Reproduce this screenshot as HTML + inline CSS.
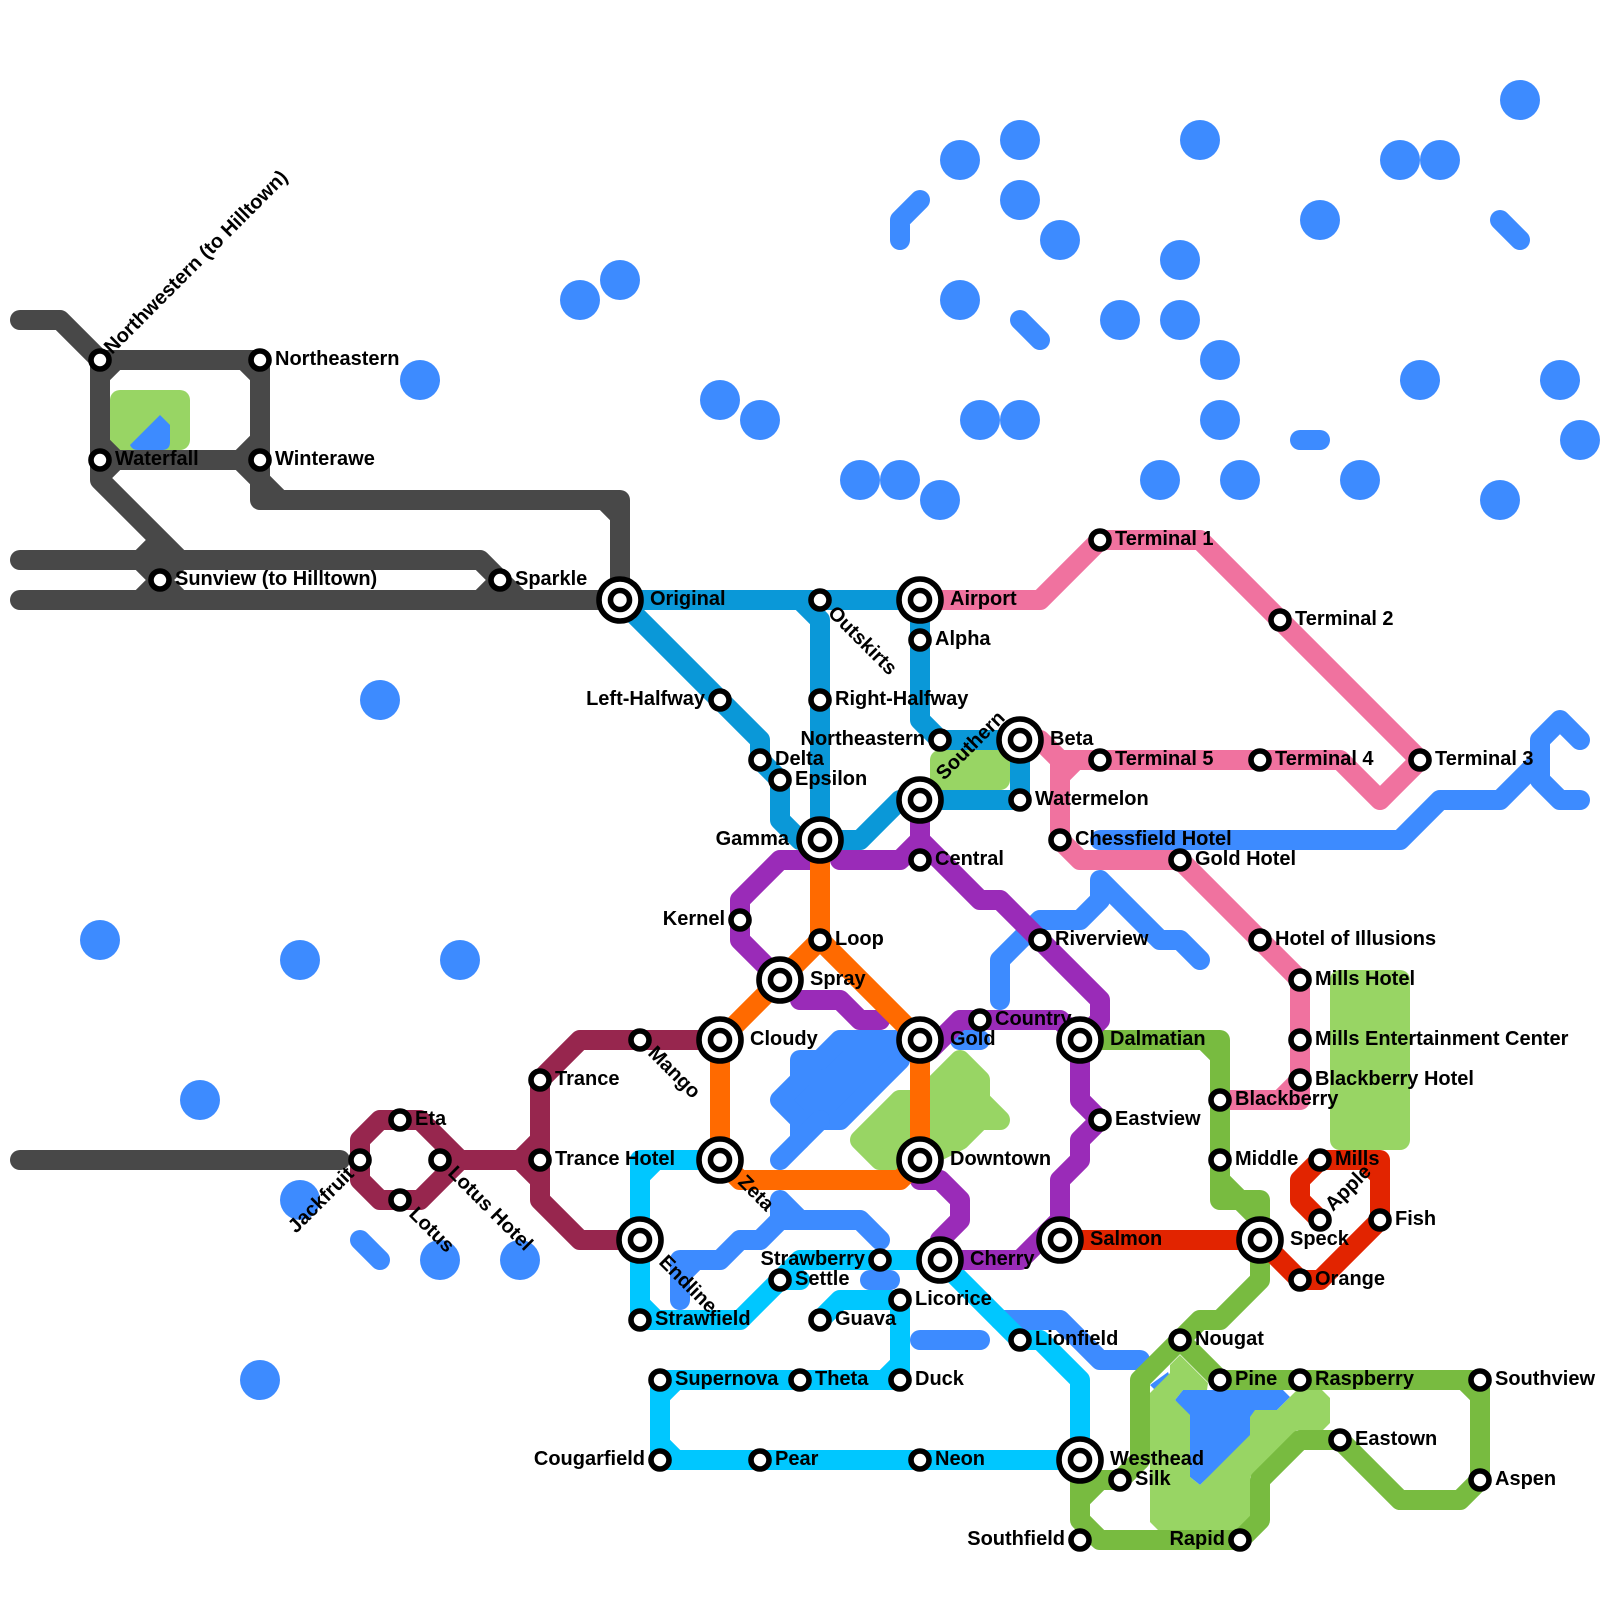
<!DOCTYPE html>
<html><head><meta charset="utf-8"><style>
html,body{margin:0;padding:0;background:#fff}
svg{display:block}
.t path{fill:none;stroke-width:20;stroke-linecap:round;stroke-linejoin:round}
.s circle{fill:#fff;stroke:#000;stroke-width:5.6}
text{font-family:"Liberation Sans",sans-serif;font-weight:bold;font-size:20px;fill:#000}
</style></head><body>
<svg xmlns="http://www.w3.org/2000/svg" width="1600" height="1600" viewBox="0 0 1600 1600">
<rect width="1600" height="1600" fill="#fff"/>
<g fill="#3d8bff">
<circle cx="580" cy="300" r="20"/><circle cx="620" cy="280" r="20"/><circle cx="420" cy="380" r="20"/><circle cx="720" cy="400" r="20"/><circle cx="760" cy="420" r="20"/><circle cx="860" cy="480" r="20"/><circle cx="900" cy="480" r="20"/><circle cx="940" cy="500" r="20"/><circle cx="960" cy="160" r="20"/><circle cx="1020" cy="140" r="20"/><circle cx="1020" cy="200" r="20"/><circle cx="1060" cy="240" r="20"/><circle cx="960" cy="300" r="20"/><circle cx="980" cy="420" r="20"/><circle cx="1020" cy="420" r="20"/><circle cx="1120" cy="320" r="20"/><circle cx="1180" cy="260" r="20"/><circle cx="1180" cy="320" r="20"/><circle cx="1200" cy="140" r="20"/><circle cx="1220" cy="360" r="20"/><circle cx="1220" cy="420" r="20"/><circle cx="1160" cy="480" r="20"/><circle cx="1240" cy="480" r="20"/><circle cx="1320" cy="220" r="20"/><circle cx="1360" cy="480" r="20"/><circle cx="1400" cy="160" r="20"/><circle cx="1440" cy="160" r="20"/><circle cx="1520" cy="100" r="20"/><circle cx="1420" cy="380" r="20"/><circle cx="1560" cy="380" r="20"/><circle cx="1580" cy="440" r="20"/><circle cx="1500" cy="500" r="20"/><circle cx="380" cy="700" r="20"/><circle cx="100" cy="940" r="20"/><circle cx="300" cy="960" r="20"/><circle cx="460" cy="960" r="20"/><circle cx="200" cy="1100" r="20"/><circle cx="300" cy="1200" r="20"/><circle cx="440" cy="1260" r="20"/><circle cx="520" cy="1260" r="20"/><circle cx="260" cy="1380" r="20"/>
<polygon points="1175,1400 1183,1390 1283,1390 1290,1397 1250,1437 1200,1485 1190,1477 1190,1417"/>
<polygon points="1150,1385 1168,1372 1170,1377 1155,1390"/>
<polygon points="800,1060 820,1060 840,1040 900,1040 900,1060 840,1120 800,1120 800,1140 800,1120 780,1100 800,1080" stroke="#3d8bff" stroke-width="20" stroke-linejoin="round"/>
</g>
<g class="t"><path stroke="#3d8bff" d="M900 240V220L920 200M1020 320L1040 340M1500 220L1520 240M1300 440H1320M360 1240L380 1260M920 1340H980M1100 840H1400L1440 800H1500L1540 760V740L1560 720L1580 740M1540 740V780L1560 800H1580M1000 1000V960L1040 920H1080L1100 900V880L1160 940H1180L1200 960M960 1040H980M780 1160L820 1120M680 1300V1260H720L740 1240H760L780 1220H860L880 1240M780 1200V1220M780 1200L800 1220M696 1260L680 1276M870 1280H890M1000 1320H1060L1100 1360H1140"/></g>
<g fill="#98d564" stroke="#98d564" stroke-linejoin="round">
<rect x="930" y="750" width="80" height="40" rx="10" stroke="none"/>
<rect x="1330" y="970" width="80" height="180" rx="10" stroke="none"/>
<rect x="110" y="390" width="80" height="60" rx="10" stroke="none"/>
<polygon stroke-width="20" points="860,1140 900,1100 920,1100 940,1080 960,1060 980,1080 980,1100 1000,1120 980,1120 960,1140 920,1160 880,1160"/>
<polygon stroke="none" points="1180,1355 1208,1383 1207,1390 1183,1390 1175,1400 1190,1415 1190,1477 1200,1485 1250,1435 1250,1417 1255,1410 1277,1410 1297,1390 1322,1390 1330,1398 1330,1423 1323,1430 1297,1430 1250,1477 1250,1520 1240,1530 1158,1530 1150,1522 1150,1393 1170,1373 1170,1365"/>
</g>
<path fill="#3d8bff" d="M160 415L170 425V442Q170 450 162 450H138Q132 450 130 445Z"/>
<g class="t">
<path stroke="#484848" d="M20 320H60L100 360V480L180 560M100 360H260V500H620V600M100 460H260M20 560H480L520 600M20 600H620M160 540L140 560L160 580L140 600M180 560L160 580L180 600M480 600L500 580M260 480L280 500M240 460L260 440M240 460L260 480M116 360L100 376M244 360L260 376M604 500L620 516M100 444L116 460M100 476L116 460M20 1160H340"/>
<path stroke="#00c7ff" d="M720 1160H640V1320H740L780 1280H800M780 1280L800 1260H940L1020 1340H1040L1080 1380V1460M820 1320L840 1300H900V1380H660V1460H1080M656 1160L640 1176M640 1304L656 1320M884 1380L900 1364M676 1380L660 1396M660 1444L676 1460"/>
<path stroke="#0a98d8" d="M620 600H920V720L940 740H1020V800H920M800 600L820 620V840M620 600L760 740V760L780 780V820L800 840H860L900 800H920"/>
<path stroke="#f0729f" d="M920 600H1040L1100 540H1200L1420 760L1380 800L1340 760H1060M1020 740H1040L1060 760V840L1080 860H1180L1300 980V1100H1220M1300 1080L1280 1100M1076 760L1060 776"/>
<path stroke="#97264e" d="M360 1140L380 1120H420L460 1160H540M360 1140V1180L380 1200H420L460 1160M540 1080V1200L580 1240H640M540 1080L580 1040H720M520 1160L540 1140M520 1160L540 1180"/>
<path stroke="#78bb40" d="M1080 1040H1220V1200H1240L1260 1220M1220 1180L1240 1200H1260V1280L1220 1320H1200L1140 1380V1460L1120 1480H1100L1080 1500M1080 1460V1520L1100 1540H1240L1260 1520V1480L1300 1440H1340L1400 1500H1460L1480 1480V1380H1220L1180 1340M1204 1040L1220 1056M1464 1380L1480 1396"/>
<path stroke="#9a2bb8" d="M920 800V840L980 900H1000L1100 1000V1020L1080 1040M840 860H900L920 840M810 860H780L740 900V940L780 980M800 1000H840L860 1020H880M930 1050L960 1020H1060L1080 1040M1080 1040V1100L1100 1120L1080 1140V1160L1060 1180V1240M1060 1220L1020 1260H940M920 1180H940L960 1200V1220L940 1240V1260"/>
<path stroke="#ff6a00" d="M720 1040L820 940L920 1040V1160L900 1180H740L720 1160V1040M820 840V940"/>
<path stroke="#e22400" d="M1060 1240H1260L1300 1280H1320L1380 1220V1160H1320L1300 1180V1200L1320 1220M1364 1160L1380 1176"/>
</g>
<g class="s">
<circle cx="100" cy="360" r="9"/><circle cx="260" cy="360" r="9"/><circle cx="100" cy="460" r="9"/><circle cx="260" cy="460" r="9"/><circle cx="160" cy="580" r="9"/><circle cx="500" cy="580" r="9"/><circle cx="360" cy="1160" r="9"/><circle cx="400" cy="1120" r="9"/><circle cx="440" cy="1160" r="9"/><circle cx="400" cy="1200" r="9"/><circle cx="540" cy="1080" r="9"/><circle cx="540" cy="1160" r="9"/><circle cx="640" cy="1040" r="9"/><circle cx="820" cy="600" r="9"/><circle cx="920" cy="640" r="9"/><circle cx="720" cy="700" r="9"/><circle cx="820" cy="700" r="9"/><circle cx="940" cy="740" r="9"/><circle cx="760" cy="760" r="9"/><circle cx="780" cy="780" r="9"/><circle cx="1020" cy="800" r="9"/><circle cx="920" cy="860" r="9"/><circle cx="740" cy="920" r="9"/><circle cx="820" cy="940" r="9"/><circle cx="1040" cy="940" r="9"/><circle cx="980" cy="1020" r="9"/><circle cx="1100" cy="540" r="9"/><circle cx="1280" cy="620" r="9"/><circle cx="1420" cy="760" r="9"/><circle cx="1260" cy="760" r="9"/><circle cx="1100" cy="760" r="9"/><circle cx="1060" cy="840" r="9"/><circle cx="1180" cy="860" r="9"/><circle cx="1260" cy="940" r="9"/><circle cx="1300" cy="980" r="9"/><circle cx="1300" cy="1040" r="9"/><circle cx="1300" cy="1080" r="9"/><circle cx="1220" cy="1100" r="9"/><circle cx="1220" cy="1160" r="9"/><circle cx="1320" cy="1160" r="9"/><circle cx="1320" cy="1220" r="9"/><circle cx="1380" cy="1220" r="9"/><circle cx="1300" cy="1280" r="9"/><circle cx="1100" cy="1120" r="9"/><circle cx="880" cy="1260" r="9"/><circle cx="780" cy="1280" r="9"/><circle cx="900" cy="1300" r="9"/><circle cx="820" cy="1320" r="9"/><circle cx="640" cy="1320" r="9"/><circle cx="660" cy="1380" r="9"/><circle cx="800" cy="1380" r="9"/><circle cx="900" cy="1380" r="9"/><circle cx="660" cy="1460" r="9"/><circle cx="760" cy="1460" r="9"/><circle cx="920" cy="1460" r="9"/><circle cx="1020" cy="1340" r="9"/><circle cx="1120" cy="1480" r="9"/><circle cx="1080" cy="1540" r="9"/><circle cx="1240" cy="1540" r="9"/><circle cx="1180" cy="1340" r="9"/><circle cx="1220" cy="1380" r="9"/><circle cx="1300" cy="1380" r="9"/><circle cx="1480" cy="1380" r="9"/><circle cx="1340" cy="1440" r="9"/><circle cx="1480" cy="1480" r="9"/>
<circle cx="620" cy="600" r="21"/><circle cx="620" cy="600" r="9.5"/>
<circle cx="920" cy="600" r="21"/><circle cx="920" cy="600" r="9.5"/>
<circle cx="1020" cy="740" r="21"/><circle cx="1020" cy="740" r="9.5"/>
<circle cx="920" cy="800" r="21"/><circle cx="920" cy="800" r="9.5"/>
<circle cx="820" cy="840" r="21"/><circle cx="820" cy="840" r="9.5"/>
<circle cx="780" cy="980" r="21"/><circle cx="780" cy="980" r="9.5"/>
<circle cx="720" cy="1040" r="21"/><circle cx="720" cy="1040" r="9.5"/>
<circle cx="920" cy="1040" r="21"/><circle cx="920" cy="1040" r="9.5"/>
<circle cx="1080" cy="1040" r="21"/><circle cx="1080" cy="1040" r="9.5"/>
<circle cx="720" cy="1160" r="21"/><circle cx="720" cy="1160" r="9.5"/>
<circle cx="920" cy="1160" r="21"/><circle cx="920" cy="1160" r="9.5"/>
<circle cx="640" cy="1240" r="21"/><circle cx="640" cy="1240" r="9.5"/>
<circle cx="1060" cy="1240" r="21"/><circle cx="1060" cy="1240" r="9.5"/>
<circle cx="1260" cy="1240" r="21"/><circle cx="1260" cy="1240" r="9.5"/>
<circle cx="940" cy="1260" r="21"/><circle cx="940" cy="1260" r="9.5"/>
<circle cx="1080" cy="1460" r="21"/><circle cx="1080" cy="1460" r="9.5"/>
</g>
<g>
<text x="275" y="365">Northeastern</text><text x="275" y="465">Winterawe</text><text x="115" y="465">Waterfall</text><text x="175" y="585">Sunview (to Hilltown)</text><text x="515" y="585">Sparkle</text><text x="935" y="645">Alpha</text><text x="835" y="705">Right-Halfway</text><text x="775" y="765">Delta</text><text x="795" y="785">Epsilon</text><text x="1035" y="805">Watermelon</text><text x="935" y="865">Central</text><text x="835" y="945">Loop</text><text x="1055" y="945">Riverview</text><text x="995" y="1025">Country</text><text x="1115" y="545">Terminal 1</text><text x="1295" y="625">Terminal 2</text><text x="1435" y="765">Terminal 3</text><text x="1275" y="765">Terminal 4</text><text x="1115" y="765">Terminal 5</text><text x="1075" y="845">Chessfield Hotel</text><text x="1195" y="865">Gold Hotel</text><text x="1275" y="945">Hotel of Illusions</text><text x="1315" y="985">Mills Hotel</text><text x="1315" y="1045">Mills Entertainment Center</text><text x="1315" y="1085">Blackberry Hotel</text><text x="1235" y="1105">Blackberry</text><text x="1235" y="1165">Middle</text><text x="1335" y="1165">Mills</text><text x="1395" y="1225">Fish</text><text x="1315" y="1285">Orange</text><text x="1115" y="1125">Eastview</text><text x="555" y="1085">Trance</text><text x="555" y="1165">Trance Hotel</text><text x="415" y="1125">Eta</text><text x="795" y="1285">Settle</text><text x="915" y="1305">Licorice</text><text x="835" y="1325">Guava</text><text x="655" y="1325">Strawfield</text><text x="675" y="1385">Supernova</text><text x="815" y="1385">Theta</text><text x="915" y="1385">Duck</text><text x="775" y="1465">Pear</text><text x="935" y="1465">Neon</text><text x="1035" y="1345">Lionfield</text><text x="1135" y="1485">Silk</text><text x="1195" y="1345">Nougat</text><text x="1235" y="1385">Pine</text><text x="1315" y="1385">Raspberry</text><text x="1495" y="1385">Southview</text><text x="1355" y="1445">Eastown</text><text x="1495" y="1485">Aspen</text>
<text x="650" y="605">Original</text><text x="950" y="605">Airport</text><text x="1050" y="745">Beta</text><text x="810" y="985">Spray</text><text x="750" y="1045">Cloudy</text><text x="950" y="1045">Gold</text><text x="1110" y="1045">Dalmatian</text><text x="950" y="1165">Downtown</text><text x="1090" y="1245">Salmon</text><text x="1290" y="1245">Speck</text><text x="970" y="1265">Cherry</text><text x="1110" y="1465">Westhead</text>
<g text-anchor="end"><text x="705" y="705">Left-Halfway</text><text x="789" y="845">Gamma</text><text x="925" y="745">Northeastern</text><text x="725" y="925">Kernel</text><text x="865" y="1265">Strawberry</text><text x="645" y="1465">Cougarfield</text><text x="1065" y="1545">Southfield</text><text x="1225" y="1545">Rapid</text></g>
<text transform="translate(112,355) rotate(-45)">Northwestern (to Hilltown)</text>
<text transform="translate(944,781) rotate(-45)">Southern</text>
<text transform="translate(1333,1212) rotate(-45)">Apple</text>
<text transform="translate(355,1175) rotate(-45)" text-anchor="end">Jackfruit</text>
<text transform="translate(827,614) rotate(45)">Outskirts</text>
<text transform="translate(647,1054) rotate(45)">Mango</text>
<text transform="translate(447,1174) rotate(45)">Lotus Hotel</text>
<text transform="translate(408,1215) rotate(45)">Lotus</text>
<text transform="translate(658,1263) rotate(45)">Endline</text>
<text transform="translate(737,1183) rotate(45)">Zeta</text>
</g>
</svg>
</body></html>
